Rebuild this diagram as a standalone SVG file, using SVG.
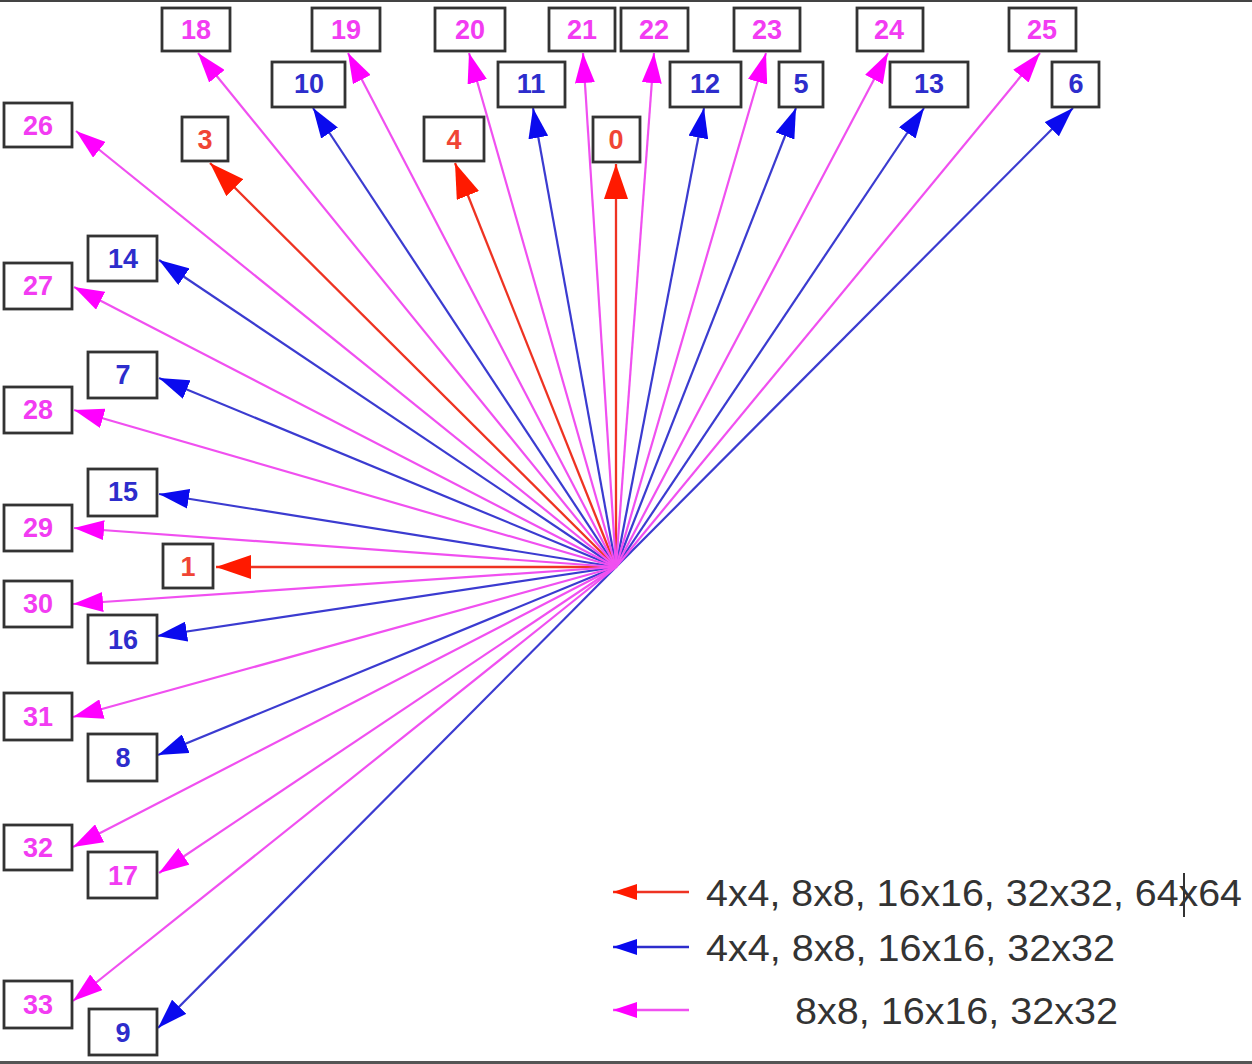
<svg xmlns="http://www.w3.org/2000/svg" width="1252" height="1064" viewBox="0 0 1252 1064">
<style>
.box{fill:#fff;stroke:#333;stroke-width:2.8}
.lbl{font-family:"Liberation Sans",Arial,sans-serif;font-weight:bold;font-size:27px;text-anchor:middle}
.tr{fill:#f04535}.tb{fill:#2d2dcc}.tm{fill:#f23cf2}
.cr{stroke:#ee3322;stroke-width:2.3;fill:none;marker-end:url(#ar)}
.cb{stroke:#3b3bd0;stroke-width:2.2;fill:none;marker-end:url(#ab)}
.cm{stroke:#f050f0;stroke-width:2.2;fill:none;marker-end:url(#am)}
.lg{font-family:"Liberation Sans",Arial,sans-serif;font-size:37px;fill:#333}
</style>
<defs>
<marker id="ar" viewBox="0 0 35 24" refX="35" refY="12" markerWidth="35" markerHeight="24" markerUnits="userSpaceOnUse" orient="auto"><path d="M0,0 L35,12 L0,24 z" fill="#ff1a00"/></marker>
<marker id="ab" viewBox="0 0 30 20" refX="30" refY="10" markerWidth="30" markerHeight="20" markerUnits="userSpaceOnUse" orient="auto"><path d="M0,0 L30,10 L0,20 z" fill="#0a0aee"/></marker>
<marker id="am" viewBox="0 0 30 20" refX="30" refY="10" markerWidth="30" markerHeight="20" markerUnits="userSpaceOnUse" orient="auto"><path d="M0,0 L30,10 L0,20 z" fill="#ff00ff"/></marker>
<marker id="lr" viewBox="0 0 24 16" refX="24" refY="8" markerWidth="24" markerHeight="16" markerUnits="userSpaceOnUse" orient="auto"><path d="M0,0 L24,8 L0,16 z" fill="#ff1a00"/></marker>
<marker id="lb" viewBox="0 0 24 16" refX="24" refY="8" markerWidth="24" markerHeight="16" markerUnits="userSpaceOnUse" orient="auto"><path d="M0,0 L24,8 L0,16 z" fill="#0a0aee"/></marker>
<marker id="lm" viewBox="0 0 24 16" refX="24" refY="8" markerWidth="24" markerHeight="16" markerUnits="userSpaceOnUse" orient="auto"><path d="M0,0 L24,8 L0,16 z" fill="#ff00ff"/></marker>
</defs>
<rect x="0" y="0" width="1252" height="1064" fill="#fff"/>
<rect x="0" y="0" width="1252" height="2" fill="#444"/>
<rect x="0" y="1061" width="1252" height="3" fill="#555"/>

<g id="connectors">
<path class="cr" d="M616,567 L616,164"/>
<path class="cr" d="M616,567 L216,567"/>
<path class="cr" d="M616,567 L210,163"/>
<path class="cr" d="M616,567 L455,163"/>
<path class="cb" d="M616,567 L313,108"/>
<path class="cb" d="M616,567 L533,108"/>
<path class="cb" d="M616,567 L704,108"/>
<path class="cb" d="M616,567 L796,108"/>
<path class="cb" d="M616,567 L924,108"/>
<path class="cb" d="M616,567 L1073,108"/>
<path class="cb" d="M616,567 L159,260"/>
<path class="cb" d="M616,567 L159,378"/>
<path class="cb" d="M616,567 L159,494"/>
<path class="cb" d="M616,567 L157,636"/>
<path class="cb" d="M616,567 L158,755"/>
<path class="cb" d="M616,567 L158,1028"/>
<path class="cm" d="M616,567 L198,53"/>
<path class="cm" d="M616,567 L348,53"/>
<path class="cm" d="M616,567 L469,53"/>
<path class="cm" d="M616,567 L583,53"/>
<path class="cm" d="M616,567 L654,53"/>
<path class="cm" d="M616,567 L766,53"/>
<path class="cm" d="M616,567 L888,53"/>
<path class="cm" d="M616,567 L1040,53"/>
<path class="cm" d="M616,567 L76,131"/>
<path class="cm" d="M616,567 L74,287"/>
<path class="cm" d="M616,567 L74,410"/>
<path class="cm" d="M616,567 L74,528"/>
<path class="cm" d="M616,567 L73,604"/>
<path class="cm" d="M616,567 L73,717"/>
<path class="cm" d="M616,567 L73,847"/>
<path class="cm" d="M616,567 L159,873"/>
<path class="cm" d="M616,567 L73,1001"/>
</g>

<g id="node-18"><rect class="box" x="162" y="8" width="68" height="43"/><text class="lbl tm" x="196" y="39">18</text></g>
<g id="node-19"><rect class="box" x="312" y="8" width="68" height="43"/><text class="lbl tm" x="346" y="39">19</text></g>
<g id="node-20"><rect class="box" x="435" y="8" width="70" height="43"/><text class="lbl tm" x="470" y="39">20</text></g>
<g id="node-21"><rect class="box" x="549" y="8" width="66" height="43"/><text class="lbl tm" x="582" y="39">21</text></g>
<g id="node-22"><rect class="box" x="621" y="8" width="67" height="43"/><text class="lbl tm" x="654" y="39">22</text></g>
<g id="node-23"><rect class="box" x="734" y="8" width="66" height="43"/><text class="lbl tm" x="767" y="39">23</text></g>
<g id="node-24"><rect class="box" x="857" y="8" width="66" height="43"/><text class="lbl tm" x="889" y="39">24</text></g>
<g id="node-25"><rect class="box" x="1009" y="8" width="67" height="43"/><text class="lbl tm" x="1042" y="39">25</text></g>
<g id="node-10"><rect class="box" x="272" y="62" width="73" height="45"/><text class="lbl tb" x="309" y="93">10</text></g>
<g id="node-11"><rect class="box" x="498" y="62" width="67" height="45"/><text class="lbl tb" x="531" y="93">11</text></g>
<g id="node-12"><rect class="box" x="670" y="62" width="71" height="45"/><text class="lbl tb" x="705" y="93">12</text></g>
<g id="node-5"><rect class="box" x="779" y="62" width="44" height="45"/><text class="lbl tb" x="801" y="93">5</text></g>
<g id="node-13"><rect class="box" x="890" y="62" width="78" height="45"/><text class="lbl tb" x="929" y="93">13</text></g>
<g id="node-6"><rect class="box" x="1052" y="62" width="47" height="45"/><text class="lbl tb" x="1076" y="93">6</text></g>
<g id="node-26"><rect class="box" x="4" y="103" width="68" height="44"/><text class="lbl tm" x="38" y="135">26</text></g>
<g id="node-3"><rect class="box" x="182" y="117" width="46" height="44"/><text class="lbl tr" x="205" y="149">3</text></g>
<g id="node-4"><rect class="box" x="424" y="117" width="60" height="44"/><text class="lbl tr" x="454" y="149">4</text></g>
<g id="node-0"><rect class="box" x="593" y="117" width="47" height="45"/><text class="lbl tr" x="616" y="149">0</text></g>
<g id="node-14"><rect class="box" x="88" y="236" width="69" height="45"/><text class="lbl tb" x="123" y="268">14</text></g>
<g id="node-27"><rect class="box" x="4" y="263" width="68" height="46"/><text class="lbl tm" x="38" y="295">27</text></g>
<g id="node-7"><rect class="box" x="88" y="352" width="69" height="46"/><text class="lbl tb" x="123" y="384">7</text></g>
<g id="node-28"><rect class="box" x="4" y="387" width="68" height="46"/><text class="lbl tm" x="38" y="419">28</text></g>
<g id="node-15"><rect class="box" x="88" y="469" width="69" height="47"/><text class="lbl tb" x="123" y="501">15</text></g>
<g id="node-29"><rect class="box" x="4" y="505" width="68" height="46"/><text class="lbl tm" x="38" y="537">29</text></g>
<g id="node-1"><rect class="box" x="163" y="544" width="50" height="44"/><text class="lbl tr" x="188" y="576">1</text></g>
<g id="node-30"><rect class="box" x="4" y="581" width="68" height="46"/><text class="lbl tm" x="38" y="613">30</text></g>
<g id="node-16"><rect class="box" x="88" y="615" width="69" height="48"/><text class="lbl tb" x="123" y="649">16</text></g>
<g id="node-31"><rect class="box" x="4" y="693" width="68" height="47"/><text class="lbl tm" x="38" y="726">31</text></g>
<g id="node-8"><rect class="box" x="88" y="734" width="69" height="47"/><text class="lbl tb" x="123" y="767">8</text></g>
<g id="node-32"><rect class="box" x="4" y="825" width="68" height="45"/><text class="lbl tm" x="38" y="857">32</text></g>
<g id="node-17"><rect class="box" x="88" y="852" width="69" height="46"/><text class="lbl tm" x="123" y="885">17</text></g>
<g id="node-33"><rect class="box" x="4" y="981" width="68" height="47"/><text class="lbl tm" x="38" y="1014">33</text></g>
<g id="node-9"><rect class="box" x="89" y="1009" width="68" height="46"/><text class="lbl tb" x="123" y="1042">9</text></g>

<g id="legend">
<path d="M689,892 L613,892" stroke="#ee3322" stroke-width="2.5" fill="none" marker-end="url(#lr)"/>
<path d="M689,947 L613,947" stroke="#2d2dcc" stroke-width="2.5" fill="none" marker-end="url(#lb)"/>
<path d="M689,1010 L613,1010" stroke="#f050f0" stroke-width="2.5" fill="none" marker-end="url(#lm)"/>
<text class="lg" x="706" y="906" textLength="536" lengthAdjust="spacingAndGlyphs">4x4, 8x8, 16x16, 32x32, 64x64</text>
<text class="lg" x="706" y="961" textLength="409" lengthAdjust="spacingAndGlyphs">4x4, 8x8, 16x16, 32x32</text>
<text class="lg" x="795" y="1024" textLength="323" lengthAdjust="spacingAndGlyphs">8x8, 16x16, 32x32</text>
<line x1="1184" y1="873" x2="1184" y2="917" stroke="#333" stroke-width="2"/>
</g>
</svg>
